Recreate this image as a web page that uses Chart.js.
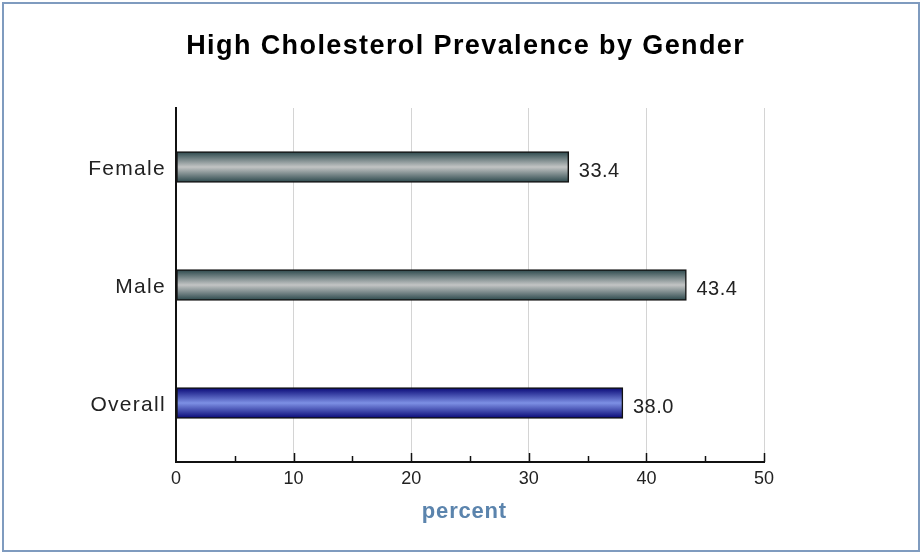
<!DOCTYPE html>
<html>
<head>
<meta charset="utf-8">
<script src="https://cdn.jsdelivr.net/npm/chart.js@4.4.1/dist/chart.umd.min.js"></script>
<style>
  body { margin: 0; background: #fff; }
  #wrap { width: 922px; height: 554px; }
</style>
</head>
<body>
<div id="wrap"><canvas id="cholChart" width="922" height="554"></canvas></div>
<script>
const categories = ["Female", "Male", "Overall"];
const prevalence = [33.4, 43.4, 38.0];
const xTicks = [0, 10, 20, 30, 40, 50];

const FONT = "'Liberation Sans', Arial, sans-serif";

// vertical gradient per bar, dark edges and light middle
function barGradient(context) {
  const chart = context.chart;
  const y = chart.scales && chart.scales.y;
  const isOverall = context.dataIndex === 2;
  const edge = isOverall ? "#0a0a78" : "#2e4a4e";
  const mid = isOverall ? "#7d90e4" : "#c2c4c4";
  if (!y || y.top === undefined) return mid;
  const cy = y.getPixelForValue(context.dataIndex);
  const g = chart.ctx.createLinearGradient(0, cy - 15, 0, cy + 15);
  g.addColorStop(0, edge);
  g.addColorStop(0.5, mid);
  g.addColorStop(1, edge);
  return g;
}

const framePlugin = {
  id: "frame",
  beforeDraw(chart) {
    // the category labels are drawn a bit wide in the original
    chart.ctx.letterSpacing = "1.3px";
  },
  afterDraw(chart) {
    const ctx = chart.ctx;
    const x = chart.scales.x;
    const area = chart.chartArea;
    ctx.save();
    // outer border
    ctx.strokeStyle = "#7f9bbf";
    ctx.lineWidth = 2;
    ctx.strokeRect(3, 3, 916, 548);
    // title
    ctx.fillStyle = "#000";
    ctx.letterSpacing = "1.4px";
    ctx.font = "bold 27px " + FONT;
    ctx.textAlign = "left";
    ctx.textBaseline = "alphabetic";
    let t = "High Cholesterol Prevalence by Gender";
    let w = ctx.measureText(t).width - 1.4;
    ctx.fillText(t, 465 - w / 2, 54);
    // inward tick marks
    ctx.strokeStyle = "#111";
    ctx.lineWidth = 1.5;
    for (let v = 5; v <= 50; v += 5) {
      const px = Math.round(x.getPixelForValue(v)) + 0.5;
      const len = v % 10 === 0 ? 9 : 6;
      ctx.beginPath();
      ctx.moveTo(px, area.bottom);
      ctx.lineTo(px, area.bottom - len);
      ctx.stroke();
    }
    // x tick labels
    ctx.letterSpacing = "0px";
    ctx.fillStyle = "#222";
    ctx.font = "18px " + FONT;
    ctx.textAlign = "center";
    ctx.textBaseline = "middle";
    xTicks.forEach(v => ctx.fillText(String(v), x.getPixelForValue(v), 479));
    // axis title
    ctx.letterSpacing = "0.8px";
    ctx.fillStyle = "#5b84ad";
    ctx.font = "bold 22px " + FONT;
    ctx.textAlign = "left";
    ctx.textBaseline = "alphabetic";
    t = "percent";
    w = ctx.measureText(t).width - 0.8;
    ctx.fillText(t, 464 - w / 2, 518);
    // value labels
    ctx.letterSpacing = "0.5px";
    ctx.fillStyle = "#222";
    ctx.font = "20px " + FONT;
    const meta = chart.getDatasetMeta(0);
    meta.data.forEach((bar, i) => {
      ctx.fillText(prevalence[i].toFixed(1), bar.x + 10, bar.y + 10);
    });
    ctx.restore();
  }
};

new Chart(document.getElementById("cholChart"), {
  type: "bar",
  data: {
    labels: categories,
    datasets: [{
      data: prevalence,
      backgroundColor: barGradient,
      borderColor: "#111",
      borderWidth: 1.5,
      borderSkipped: false,
      barThickness: 31
    }]
  },
  options: {
    indexAxis: "y",
    responsive: false,
    animation: false,
    layout: { padding: { top: 108, right: 158, bottom: 0, left: 0 } },
    plugins: {
      legend: { display: false },
      tooltip: { enabled: false }
    },
    scales: {
      x: {
        min: 0,
        max: 50,
        afterBuildTicks: (scale) => { scale.ticks = xTicks.map(v => ({ value: v })); },
        afterFit: (scale) => { scale.height = 92; },
        grid: {
          color: (c) => c.tick && c.tick.value === 0 ? "rgba(0,0,0,0)" : "#d4d4d4",
          lineWidth: 1,
          drawTicks: false
        },
        border: { color: "#111", width: 2 },
        ticks: { display: false }
      },
      y: {
        afterFit: (scale) => { scale.width = 176; },
        grid: { display: false, drawTicks: false },
        border: { color: "#111", width: 2 },
        ticks: { color: "#222", font: { family: FONT, size: 21 }, padding: 10, labelOffset: 2 }
      }
    }
  },
  plugins: [framePlugin]
});
</script>
</body>
</html>
